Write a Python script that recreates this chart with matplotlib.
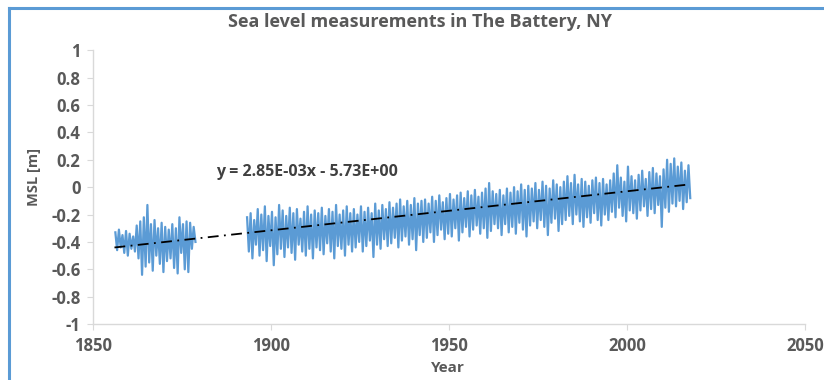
import numpy as np
import matplotlib
matplotlib.use("Agg")
import matplotlib.pyplot as plt
from matplotlib.lines import Line2D

plt.rcParams['font.family'] = ['Open Sans', 'DejaVu Sans']
plt.rcParams['axes.unicode_minus'] = False

# monthly MSL record, summarised as yearly high / low swings (m)
years1 = list(range(1856, 1879))
hi1 = [-0.33, -0.31, -0.35, -0.32, -0.34, -0.36, -0.28, -0.25, -0.22, -0.13, -0.27, -0.24,
       -0.30, -0.26, -0.29, -0.31, -0.27, -0.30, -0.22, -0.27, -0.25, -0.26, -0.29]
lo1 = [-0.46, -0.44, -0.48, -0.50, -0.45, -0.47, -0.52, -0.64, -0.58, -0.55, -0.61, -0.50,
       -0.56, -0.62, -0.54, -0.52, -0.59, -0.63, -0.48, -0.60, -0.62, -0.45, -0.40]

years2 = list(range(1893, 2018))
hi2 = [-0.22, -0.19, -0.24, -0.16, -0.20, -0.14, -0.21, -0.18, -0.22, -0.13,
       -0.17, -0.21, -0.15, -0.19, -0.16, -0.23, -0.18, -0.14, -0.20, -0.17,
       -0.19, -0.15, -0.21, -0.16, -0.18, -0.13, -0.20, -0.17, -0.14, -0.19,
       -0.16, -0.20, -0.14, -0.18, -0.15, -0.19, -0.12, -0.17, -0.13, -0.16,
       -0.11, -0.15, -0.12, -0.09, -0.14, -0.10, -0.13, -0.08, -0.12, -0.10,
       -0.09, -0.12, -0.07, -0.10, -0.06, -0.11, -0.08, -0.05, -0.09, -0.06,
       -0.04, -0.08, -0.03, -0.06, -0.02, -0.07, -0.04, -0.01, 0.03, -0.03,
       -0.05, -0.02, -0.06, -0.01, -0.04, 0.00, -0.03, 0.02, -0.02, 0.01,
       -0.01, 0.03, -0.02, 0.04, 0.01, -0.01, 0.05, 0.02, 0.00, 0.04,
       0.08, 0.03, 0.09, 0.02, 0.06, 0.04, 0.01, 0.05, 0.07, 0.03,
       0.06, 0.02, 0.05, 0.10, 0.16, 0.07, 0.04, 0.15, 0.08, 0.05,
       0.09, 0.12, 0.06, 0.11, 0.14, 0.10, 0.08, 0.13, 0.20, 0.17,
       0.21, 0.15, 0.18, 0.12, 0.16]
lo2 = [-0.47, -0.52, -0.42, -0.50, -0.46, -0.54, -0.43, -0.57, -0.49, -0.45,
       -0.51, -0.44, -0.48, -0.53, -0.42, -0.47, -0.50, -0.45, -0.52, -0.44,
       -0.46, -0.49, -0.41, -0.47, -0.52, -0.43, -0.45, -0.50, -0.42, -0.47,
       -0.44, -0.40, -0.47, -0.43, -0.39, -0.51, -0.42, -0.45, -0.38, -0.43,
       -0.41, -0.37, -0.44, -0.39, -0.36, -0.42, -0.38, -0.46, -0.35, -0.40,
       -0.37, -0.33, -0.40, -0.35, -0.31, -0.38, -0.34, -0.36, -0.30, -0.39,
       -0.33, -0.29, -0.36, -0.31, -0.28, -0.34, -0.30, -0.37, -0.32, -0.27,
       -0.30, -0.35, -0.27, -0.33, -0.29, -0.34, -0.26, -0.31, -0.36, -0.28,
       -0.25, -0.30, -0.24, -0.29, -0.35, -0.26, -0.23, -0.32, -0.27, -0.24,
       -0.21, -0.27, -0.20, -0.25, -0.29, -0.22, -0.26, -0.19, -0.24, -0.28,
       -0.20, -0.24, -0.18, -0.22, -0.15, -0.21, -0.25, -0.17, -0.19, -0.23,
       -0.17, -0.14, -0.21, -0.16, -0.19, -0.13, -0.29, -0.15, -0.18, -0.12,
       -0.14, -0.10, -0.16, -0.11, -0.08]

# linear trend fitted in the spreadsheet
slope = 2.85e-03
intercept = -5.73
trend_x = [1856, 2017]

xticks = [1850, 1900, 1950, 2000, 2050]
yticks = [-1, -0.8, -0.6, -0.4, -0.2, 0, 0.2, 0.4, 0.6, 0.8, 1]


def zigzag(years, hi, lo):
    # high in the first half of each year, low in the second
    t = np.column_stack([np.array(years) + 0.25, np.array(years) + 0.75]).ravel()
    v = np.column_stack([hi, lo]).ravel()
    return t, v


blue = '#5B9BD5'
grey_txt = '#595959'
axis_col = '#D9D9D9'

fig = plt.figure(figsize=(8.24, 3.8), dpi=100)
ax = fig.add_axes([0.113, 0.147, 0.864, 0.721])

for yrs, hi, lo in [(years1, hi1, lo1), (years2, hi2, lo2)]:
    t, v = zigzag(yrs, hi, lo)
    ax.plot(t, v, color=blue, lw=1.6, zorder=2)

tx = np.array(trend_x)
ax.plot(tx, slope * tx + intercept, color='black', lw=1.3,
        linestyle=(0, (6, 3, 1, 3)), zorder=3)

ax.text(1910, 0.11, 'y = 2.85E-03x - 5.73E+00', ha='center', va='center',
        fontsize=11.5, fontweight='bold', color='#404040')

ax.set_xlim(1850, 2050)
ax.set_ylim(-1, 1)
ax.set_xticks(xticks)
ax.set_yticks(yticks)
ax.set_yticklabels([f'{v:g}' for v in yticks])
ax.tick_params(direction='out', length=4, color=axis_col, labelcolor=grey_txt,
               labelsize=12, pad=5)
for lbl in ax.get_xticklabels() + ax.get_yticklabels():
    lbl.set_fontweight('bold')

for s in ['top', 'right']:
    ax.spines[s].set_visible(False)
for s in ['left', 'bottom']:
    ax.spines[s].set_color(axis_col)
    ax.spines[s].set_linewidth(1)

ax.set_xlabel('Year', fontsize=11, fontweight='bold', color=grey_txt)
ax.set_ylabel('MSL [m]', fontsize=10.5, fontweight='bold', color=grey_txt)
ax.xaxis.set_label_coords(0.499, -0.135)
ax.yaxis.set_label_coords(-0.073, 0.536)

fig.text(0.51, 0.942, 'Sea level measurements in The Battery, NY', ha='center',
         va='center', fontsize=13, fontweight='bold', color=grey_txt)

# chart frame (left and top edges)
fig.add_artist(Line2D([0.011, 0.011], [0.0, 0.98], transform=fig.transFigure,
                      color=blue, lw=2.2))
fig.add_artist(Line2D([0.011, 1.0], [0.98, 0.98], transform=fig.transFigure,
                      color=blue, lw=2.2))

fig.savefig('out.png', dpi=100)
